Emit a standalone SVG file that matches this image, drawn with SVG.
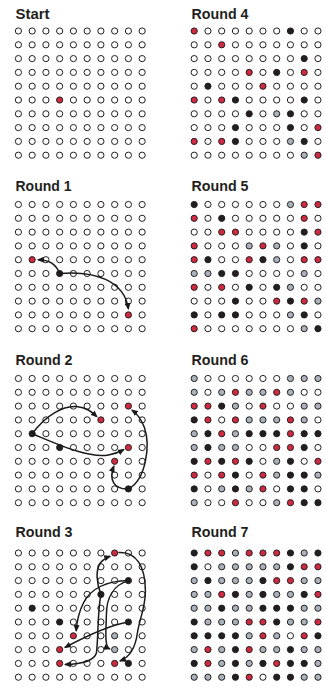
<svg xmlns="http://www.w3.org/2000/svg" width="326" height="688" viewBox="0 0 326 688">
<style>
.t{font-family:"Liberation Sans",Arial,sans-serif;font-weight:bold;font-size:15.5px;fill:#231f20}
.d{r:3.1px;stroke:#231f20;stroke-width:1;fill:#fff}
.r{fill:#cf2a3f}.k{fill:#231f20}.g{fill:#aab3bc}
.a{fill:none;stroke:#1a1a1a;stroke-width:1.5;marker-end:url(#ah)}
</style>
<defs>
<marker id="ah" markerUnits="userSpaceOnUse" markerWidth="7" markerHeight="6" viewBox="0 0 7 6" refX="6" refY="3" orient="auto"><path d="M0,0 L7,3 L0,6 z" fill="#1a1a1a"/></marker>
</defs>
<rect width="326" height="688" fill="#fff"/>

<g id="panel-start">
<text class="t" x="15.5" y="18.5" textLength="34" lengthAdjust="spacingAndGlyphs">Start</text>
<g transform="translate(18.4,31)">
<g><circle class="d" cx="0"/><circle class="d" cx="13.75"/><circle class="d" cx="27.5"/><circle class="d" cx="41.25"/><circle class="d" cx="55"/><circle class="d" cx="68.75"/><circle class="d" cx="82.5"/><circle class="d" cx="96.25"/><circle class="d" cx="110"/><circle class="d" cx="123.75"/></g>
<g transform="translate(0,13.8)"><circle class="d" cx="0"/><circle class="d" cx="13.75"/><circle class="d" cx="27.5"/><circle class="d" cx="41.25"/><circle class="d" cx="55"/><circle class="d" cx="68.75"/><circle class="d" cx="82.5"/><circle class="d" cx="96.25"/><circle class="d" cx="110"/><circle class="d" cx="123.75"/></g>
<g transform="translate(0,27.6)"><circle class="d" cx="0"/><circle class="d" cx="13.75"/><circle class="d" cx="27.5"/><circle class="d" cx="41.25"/><circle class="d" cx="55"/><circle class="d" cx="68.75"/><circle class="d" cx="82.5"/><circle class="d" cx="96.25"/><circle class="d" cx="110"/><circle class="d" cx="123.75"/></g>
<g transform="translate(0,41.4)"><circle class="d" cx="0"/><circle class="d" cx="13.75"/><circle class="d" cx="27.5"/><circle class="d" cx="41.25"/><circle class="d" cx="55"/><circle class="d" cx="68.75"/><circle class="d" cx="82.5"/><circle class="d" cx="96.25"/><circle class="d" cx="110"/><circle class="d" cx="123.75"/></g>
<g transform="translate(0,55.2)"><circle class="d" cx="0"/><circle class="d" cx="13.75"/><circle class="d" cx="27.5"/><circle class="d" cx="41.25"/><circle class="d" cx="55"/><circle class="d" cx="68.75"/><circle class="d" cx="82.5"/><circle class="d" cx="96.25"/><circle class="d" cx="110"/><circle class="d" cx="123.75"/></g>
<g transform="translate(0,69)"><circle class="d" cx="0"/><circle class="d" cx="13.75"/><circle class="d" cx="27.5"/><circle class="d r" cx="41.25"/><circle class="d" cx="55"/><circle class="d" cx="68.75"/><circle class="d" cx="82.5"/><circle class="d" cx="96.25"/><circle class="d" cx="110"/><circle class="d" cx="123.75"/></g>
<g transform="translate(0,82.8)"><circle class="d" cx="0"/><circle class="d" cx="13.75"/><circle class="d" cx="27.5"/><circle class="d" cx="41.25"/><circle class="d" cx="55"/><circle class="d" cx="68.75"/><circle class="d" cx="82.5"/><circle class="d" cx="96.25"/><circle class="d" cx="110"/><circle class="d" cx="123.75"/></g>
<g transform="translate(0,96.6)"><circle class="d" cx="0"/><circle class="d" cx="13.75"/><circle class="d" cx="27.5"/><circle class="d" cx="41.25"/><circle class="d" cx="55"/><circle class="d" cx="68.75"/><circle class="d" cx="82.5"/><circle class="d" cx="96.25"/><circle class="d" cx="110"/><circle class="d" cx="123.75"/></g>
<g transform="translate(0,110.4)"><circle class="d" cx="0"/><circle class="d" cx="13.75"/><circle class="d" cx="27.5"/><circle class="d" cx="41.25"/><circle class="d" cx="55"/><circle class="d" cx="68.75"/><circle class="d" cx="82.5"/><circle class="d" cx="96.25"/><circle class="d" cx="110"/><circle class="d" cx="123.75"/></g>
<g transform="translate(0,124.2)"><circle class="d" cx="0"/><circle class="d" cx="13.75"/><circle class="d" cx="27.5"/><circle class="d" cx="41.25"/><circle class="d" cx="55"/><circle class="d" cx="68.75"/><circle class="d" cx="82.5"/><circle class="d" cx="96.25"/><circle class="d" cx="110"/><circle class="d" cx="123.75"/></g>
</g>
</g>

<g id="panel-round1">
<text class="t" x="15.5" y="191" textLength="56" lengthAdjust="spacingAndGlyphs">Round 1</text>
<g transform="translate(18.4,204.5)">
<g><circle class="d" cx="0"/><circle class="d" cx="13.75"/><circle class="d" cx="27.5"/><circle class="d" cx="41.25"/><circle class="d" cx="55"/><circle class="d" cx="68.75"/><circle class="d" cx="82.5"/><circle class="d" cx="96.25"/><circle class="d" cx="110"/><circle class="d" cx="123.75"/></g>
<g transform="translate(0,13.8)"><circle class="d" cx="0"/><circle class="d" cx="13.75"/><circle class="d" cx="27.5"/><circle class="d" cx="41.25"/><circle class="d" cx="55"/><circle class="d" cx="68.75"/><circle class="d" cx="82.5"/><circle class="d" cx="96.25"/><circle class="d" cx="110"/><circle class="d" cx="123.75"/></g>
<g transform="translate(0,27.6)"><circle class="d" cx="0"/><circle class="d" cx="13.75"/><circle class="d" cx="27.5"/><circle class="d" cx="41.25"/><circle class="d" cx="55"/><circle class="d" cx="68.75"/><circle class="d" cx="82.5"/><circle class="d" cx="96.25"/><circle class="d" cx="110"/><circle class="d" cx="123.75"/></g>
<g transform="translate(0,41.4)"><circle class="d" cx="0"/><circle class="d" cx="13.75"/><circle class="d" cx="27.5"/><circle class="d" cx="41.25"/><circle class="d" cx="55"/><circle class="d" cx="68.75"/><circle class="d" cx="82.5"/><circle class="d" cx="96.25"/><circle class="d" cx="110"/><circle class="d" cx="123.75"/></g>
<g transform="translate(0,55.2)"><circle class="d" cx="0"/><circle class="d r" cx="13.75"/><circle class="d" cx="27.5"/><circle class="d" cx="41.25"/><circle class="d" cx="55"/><circle class="d" cx="68.75"/><circle class="d" cx="82.5"/><circle class="d" cx="96.25"/><circle class="d" cx="110"/><circle class="d" cx="123.75"/></g>
<g transform="translate(0,69)"><circle class="d" cx="0"/><circle class="d" cx="13.75"/><circle class="d" cx="27.5"/><circle class="d k" cx="41.25"/><circle class="d" cx="55"/><circle class="d" cx="68.75"/><circle class="d" cx="82.5"/><circle class="d" cx="96.25"/><circle class="d" cx="110"/><circle class="d" cx="123.75"/></g>
<g transform="translate(0,82.8)"><circle class="d" cx="0"/><circle class="d" cx="13.75"/><circle class="d" cx="27.5"/><circle class="d" cx="41.25"/><circle class="d" cx="55"/><circle class="d" cx="68.75"/><circle class="d" cx="82.5"/><circle class="d" cx="96.25"/><circle class="d" cx="110"/><circle class="d" cx="123.75"/></g>
<g transform="translate(0,96.6)"><circle class="d" cx="0"/><circle class="d" cx="13.75"/><circle class="d" cx="27.5"/><circle class="d" cx="41.25"/><circle class="d" cx="55"/><circle class="d" cx="68.75"/><circle class="d" cx="82.5"/><circle class="d" cx="96.25"/><circle class="d" cx="110"/><circle class="d" cx="123.75"/></g>
<g transform="translate(0,110.4)"><circle class="d" cx="0"/><circle class="d" cx="13.75"/><circle class="d" cx="27.5"/><circle class="d" cx="41.25"/><circle class="d" cx="55"/><circle class="d" cx="68.75"/><circle class="d" cx="82.5"/><circle class="d" cx="96.25"/><circle class="d r" cx="110"/><circle class="d" cx="123.75"/></g>
<g transform="translate(0,124.2)"><circle class="d" cx="0"/><circle class="d" cx="13.75"/><circle class="d" cx="27.5"/><circle class="d" cx="41.25"/><circle class="d" cx="55"/><circle class="d" cx="68.75"/><circle class="d" cx="82.5"/><circle class="d" cx="96.25"/><circle class="d" cx="110"/><circle class="d" cx="123.75"/></g>
</g>
</g>

<g id="panel-round2">
<text class="t" x="15.5" y="365" textLength="57" lengthAdjust="spacingAndGlyphs">Round 2</text>
<g transform="translate(18.4,378.5)">
<g><circle class="d" cx="0"/><circle class="d" cx="13.75"/><circle class="d" cx="27.5"/><circle class="d" cx="41.25"/><circle class="d" cx="55"/><circle class="d" cx="68.75"/><circle class="d" cx="82.5"/><circle class="d" cx="96.25"/><circle class="d" cx="110"/><circle class="d" cx="123.75"/></g>
<g transform="translate(0,13.8)"><circle class="d" cx="0"/><circle class="d" cx="13.75"/><circle class="d" cx="27.5"/><circle class="d" cx="41.25"/><circle class="d" cx="55"/><circle class="d" cx="68.75"/><circle class="d" cx="82.5"/><circle class="d" cx="96.25"/><circle class="d" cx="110"/><circle class="d" cx="123.75"/></g>
<g transform="translate(0,27.6)"><circle class="d" cx="0"/><circle class="d" cx="13.75"/><circle class="d" cx="27.5"/><circle class="d" cx="41.25"/><circle class="d" cx="55"/><circle class="d" cx="68.75"/><circle class="d" cx="82.5"/><circle class="d" cx="96.25"/><circle class="d r" cx="110"/><circle class="d" cx="123.75"/></g>
<g transform="translate(0,41.4)"><circle class="d" cx="0"/><circle class="d" cx="13.75"/><circle class="d" cx="27.5"/><circle class="d" cx="41.25"/><circle class="d" cx="55"/><circle class="d" cx="68.75"/><circle class="d r" cx="82.5"/><circle class="d" cx="96.25"/><circle class="d" cx="110"/><circle class="d" cx="123.75"/></g>
<g transform="translate(0,55.2)"><circle class="d" cx="0"/><circle class="d k" cx="13.75"/><circle class="d" cx="27.5"/><circle class="d" cx="41.25"/><circle class="d" cx="55"/><circle class="d" cx="68.75"/><circle class="d" cx="82.5"/><circle class="d" cx="96.25"/><circle class="d" cx="110"/><circle class="d" cx="123.75"/></g>
<g transform="translate(0,69)"><circle class="d" cx="0"/><circle class="d" cx="13.75"/><circle class="d" cx="27.5"/><circle class="d k" cx="41.25"/><circle class="d" cx="55"/><circle class="d" cx="68.75"/><circle class="d" cx="82.5"/><circle class="d" cx="96.25"/><circle class="d r" cx="110"/><circle class="d" cx="123.75"/></g>
<g transform="translate(0,82.8)"><circle class="d" cx="0"/><circle class="d" cx="13.75"/><circle class="d" cx="27.5"/><circle class="d" cx="41.25"/><circle class="d" cx="55"/><circle class="d" cx="68.75"/><circle class="d" cx="82.5"/><circle class="d r" cx="96.25"/><circle class="d" cx="110"/><circle class="d" cx="123.75"/></g>
<g transform="translate(0,96.6)"><circle class="d" cx="0"/><circle class="d" cx="13.75"/><circle class="d" cx="27.5"/><circle class="d" cx="41.25"/><circle class="d" cx="55"/><circle class="d" cx="68.75"/><circle class="d" cx="82.5"/><circle class="d" cx="96.25"/><circle class="d" cx="110"/><circle class="d" cx="123.75"/></g>
<g transform="translate(0,110.4)"><circle class="d" cx="0"/><circle class="d" cx="13.75"/><circle class="d" cx="27.5"/><circle class="d" cx="41.25"/><circle class="d" cx="55"/><circle class="d" cx="68.75"/><circle class="d" cx="82.5"/><circle class="d" cx="96.25"/><circle class="d k" cx="110"/><circle class="d" cx="123.75"/></g>
<g transform="translate(0,124.2)"><circle class="d" cx="0"/><circle class="d" cx="13.75"/><circle class="d" cx="27.5"/><circle class="d" cx="41.25"/><circle class="d" cx="55"/><circle class="d" cx="68.75"/><circle class="d" cx="82.5"/><circle class="d" cx="96.25"/><circle class="d" cx="110"/><circle class="d" cx="123.75"/></g>
</g>
</g>

<g id="panel-round3">
<text class="t" x="15.5" y="537" textLength="57" lengthAdjust="spacingAndGlyphs">Round 3</text>
<g transform="translate(18.4,553)">
<g><circle class="d" cx="0"/><circle class="d" cx="13.75"/><circle class="d" cx="27.5"/><circle class="d" cx="41.25"/><circle class="d" cx="55"/><circle class="d" cx="68.75"/><circle class="d" cx="82.5"/><circle class="d r" cx="96.25"/><circle class="d" cx="110"/><circle class="d" cx="123.75"/></g>
<g transform="translate(0,13.8)"><circle class="d" cx="0"/><circle class="d" cx="13.75"/><circle class="d" cx="27.5"/><circle class="d" cx="41.25"/><circle class="d" cx="55"/><circle class="d" cx="68.75"/><circle class="d" cx="82.5"/><circle class="d" cx="96.25"/><circle class="d" cx="110"/><circle class="d" cx="123.75"/></g>
<g transform="translate(0,27.6)"><circle class="d" cx="0"/><circle class="d" cx="13.75"/><circle class="d" cx="27.5"/><circle class="d" cx="41.25"/><circle class="d" cx="55"/><circle class="d" cx="68.75"/><circle class="d" cx="82.5"/><circle class="d" cx="96.25"/><circle class="d k" cx="110"/><circle class="d" cx="123.75"/></g>
<g transform="translate(0,41.4)"><circle class="d" cx="0"/><circle class="d" cx="13.75"/><circle class="d" cx="27.5"/><circle class="d" cx="41.25"/><circle class="d" cx="55"/><circle class="d" cx="68.75"/><circle class="d k" cx="82.5"/><circle class="d" cx="96.25"/><circle class="d" cx="110"/><circle class="d" cx="123.75"/></g>
<g transform="translate(0,55.2)"><circle class="d" cx="0"/><circle class="d k" cx="13.75"/><circle class="d" cx="27.5"/><circle class="d" cx="41.25"/><circle class="d" cx="55"/><circle class="d" cx="68.75"/><circle class="d" cx="82.5"/><circle class="d" cx="96.25"/><circle class="d" cx="110"/><circle class="d" cx="123.75"/></g>
<g transform="translate(0,69)"><circle class="d" cx="0"/><circle class="d" cx="13.75"/><circle class="d" cx="27.5"/><circle class="d k" cx="41.25"/><circle class="d" cx="55"/><circle class="d" cx="68.75"/><circle class="d" cx="82.5"/><circle class="d" cx="96.25"/><circle class="d k" cx="110"/><circle class="d" cx="123.75"/></g>
<g transform="translate(0,82.8)"><circle class="d" cx="0"/><circle class="d" cx="13.75"/><circle class="d" cx="27.5"/><circle class="d" cx="41.25"/><circle class="d r" cx="55"/><circle class="d" cx="68.75"/><circle class="d" cx="82.5"/><circle class="d g" cx="96.25"/><circle class="d" cx="110"/><circle class="d" cx="123.75"/></g>
<g transform="translate(0,96.6)"><circle class="d" cx="0"/><circle class="d" cx="13.75"/><circle class="d" cx="27.5"/><circle class="d r" cx="41.25"/><circle class="d" cx="55"/><circle class="d" cx="68.75"/><circle class="d" cx="82.5"/><circle class="d g" cx="96.25"/><circle class="d" cx="110"/><circle class="d" cx="123.75"/></g>
<g transform="translate(0,110.4)"><circle class="d" cx="0"/><circle class="d" cx="13.75"/><circle class="d" cx="27.5"/><circle class="d r" cx="41.25"/><circle class="d" cx="55"/><circle class="d" cx="68.75"/><circle class="d" cx="82.5"/><circle class="d r" cx="96.25"/><circle class="d k" cx="110"/><circle class="d" cx="123.75"/></g>
<g transform="translate(0,124.2)"><circle class="d" cx="0"/><circle class="d" cx="13.75"/><circle class="d" cx="27.5"/><circle class="d" cx="41.25"/><circle class="d" cx="55"/><circle class="d" cx="68.75"/><circle class="d" cx="82.5"/><circle class="d" cx="96.25"/><circle class="d" cx="110"/><circle class="d" cx="123.75"/></g>
</g>
</g>

<g id="panel-round4">
<text class="t" x="191.5" y="18.5" textLength="57" lengthAdjust="spacingAndGlyphs">Round 4</text>
<g transform="translate(194.2,31)">
<g><circle class="d r" cx="0"/><circle class="d" cx="13.75"/><circle class="d" cx="27.5"/><circle class="d" cx="41.25"/><circle class="d" cx="55"/><circle class="d" cx="68.75"/><circle class="d" cx="82.5"/><circle class="d k" cx="96.25"/><circle class="d" cx="110"/><circle class="d" cx="123.75"/></g>
<g transform="translate(0,13.8)"><circle class="d" cx="0"/><circle class="d" cx="13.75"/><circle class="d r" cx="27.5"/><circle class="d" cx="41.25"/><circle class="d" cx="55"/><circle class="d" cx="68.75"/><circle class="d" cx="82.5"/><circle class="d" cx="96.25"/><circle class="d" cx="110"/><circle class="d" cx="123.75"/></g>
<g transform="translate(0,27.6)"><circle class="d" cx="0"/><circle class="d" cx="13.75"/><circle class="d" cx="27.5"/><circle class="d" cx="41.25"/><circle class="d" cx="55"/><circle class="d" cx="68.75"/><circle class="d" cx="82.5"/><circle class="d" cx="96.25"/><circle class="d k" cx="110"/><circle class="d" cx="123.75"/></g>
<g transform="translate(0,41.4)"><circle class="d" cx="0"/><circle class="d" cx="13.75"/><circle class="d" cx="27.5"/><circle class="d" cx="41.25"/><circle class="d r" cx="55"/><circle class="d" cx="68.75"/><circle class="d k" cx="82.5"/><circle class="d" cx="96.25"/><circle class="d r" cx="110"/><circle class="d" cx="123.75"/></g>
<g transform="translate(0,55.2)"><circle class="d" cx="0"/><circle class="d k" cx="13.75"/><circle class="d" cx="27.5"/><circle class="d" cx="41.25"/><circle class="d" cx="55"/><circle class="d r" cx="68.75"/><circle class="d" cx="82.5"/><circle class="d" cx="96.25"/><circle class="d" cx="110"/><circle class="d" cx="123.75"/></g>
<g transform="translate(0,69)"><circle class="d r" cx="0"/><circle class="d" cx="13.75"/><circle class="d r" cx="27.5"/><circle class="d k" cx="41.25"/><circle class="d" cx="55"/><circle class="d" cx="68.75"/><circle class="d" cx="82.5"/><circle class="d" cx="96.25"/><circle class="d k" cx="110"/><circle class="d" cx="123.75"/></g>
<g transform="translate(0,82.8)"><circle class="d" cx="0"/><circle class="d" cx="13.75"/><circle class="d" cx="27.5"/><circle class="d" cx="41.25"/><circle class="d k" cx="55"/><circle class="d" cx="68.75"/><circle class="d g" cx="82.5"/><circle class="d k" cx="96.25"/><circle class="d" cx="110"/><circle class="d" cx="123.75"/></g>
<g transform="translate(0,96.6)"><circle class="d" cx="0"/><circle class="d" cx="13.75"/><circle class="d" cx="27.5"/><circle class="d k" cx="41.25"/><circle class="d" cx="55"/><circle class="d" cx="68.75"/><circle class="d" cx="82.5"/><circle class="d k" cx="96.25"/><circle class="d" cx="110"/><circle class="d r" cx="123.75"/></g>
<g transform="translate(0,110.4)"><circle class="d r" cx="0"/><circle class="d" cx="13.75"/><circle class="d r" cx="27.5"/><circle class="d k" cx="41.25"/><circle class="d" cx="55"/><circle class="d" cx="68.75"/><circle class="d" cx="82.5"/><circle class="d g" cx="96.25"/><circle class="d k" cx="110"/><circle class="d" cx="123.75"/></g>
<g transform="translate(0,124.2)"><circle class="d" cx="0"/><circle class="d" cx="13.75"/><circle class="d" cx="27.5"/><circle class="d" cx="41.25"/><circle class="d" cx="55"/><circle class="d" cx="68.75"/><circle class="d" cx="82.5"/><circle class="d" cx="96.25"/><circle class="d g" cx="110"/><circle class="d r" cx="123.75"/></g>
</g>
</g>

<g id="panel-round5">
<text class="t" x="191.5" y="191" textLength="57" lengthAdjust="spacingAndGlyphs">Round 5</text>
<g transform="translate(194.2,204.5)">
<g><circle class="d k" cx="0"/><circle class="d" cx="13.75"/><circle class="d" cx="27.5"/><circle class="d" cx="41.25"/><circle class="d" cx="55"/><circle class="d" cx="68.75"/><circle class="d" cx="82.5"/><circle class="d g" cx="96.25"/><circle class="d r" cx="110"/><circle class="d r" cx="123.75"/></g>
<g transform="translate(0,13.8)"><circle class="d r" cx="0"/><circle class="d" cx="13.75"/><circle class="d k" cx="27.5"/><circle class="d" cx="41.25"/><circle class="d" cx="55"/><circle class="d" cx="68.75"/><circle class="d" cx="82.5"/><circle class="d" cx="96.25"/><circle class="d r" cx="110"/><circle class="d" cx="123.75"/></g>
<g transform="translate(0,27.6)"><circle class="d" cx="0"/><circle class="d" cx="13.75"/><circle class="d r" cx="27.5"/><circle class="d r" cx="41.25"/><circle class="d" cx="55"/><circle class="d" cx="68.75"/><circle class="d" cx="82.5"/><circle class="d" cx="96.25"/><circle class="d k" cx="110"/><circle class="d r" cx="123.75"/></g>
<g transform="translate(0,41.4)"><circle class="d r" cx="0"/><circle class="d" cx="13.75"/><circle class="d" cx="27.5"/><circle class="d" cx="41.25"/><circle class="d g" cx="55"/><circle class="d r" cx="68.75"/><circle class="d g" cx="82.5"/><circle class="d" cx="96.25"/><circle class="d k" cx="110"/><circle class="d" cx="123.75"/></g>
<g transform="translate(0,55.2)"><circle class="d r" cx="0"/><circle class="d k" cx="13.75"/><circle class="d" cx="27.5"/><circle class="d" cx="41.25"/><circle class="d r" cx="55"/><circle class="d k" cx="68.75"/><circle class="d g" cx="82.5"/><circle class="d" cx="96.25"/><circle class="d r" cx="110"/><circle class="d r" cx="123.75"/></g>
<g transform="translate(0,69)"><circle class="d g" cx="0"/><circle class="d g" cx="13.75"/><circle class="d k" cx="27.5"/><circle class="d k" cx="41.25"/><circle class="d" cx="55"/><circle class="d" cx="68.75"/><circle class="d" cx="82.5"/><circle class="d" cx="96.25"/><circle class="d g" cx="110"/><circle class="d" cx="123.75"/></g>
<g transform="translate(0,82.8)"><circle class="d r" cx="0"/><circle class="d" cx="13.75"/><circle class="d r" cx="27.5"/><circle class="d" cx="41.25"/><circle class="d k" cx="55"/><circle class="d" cx="68.75"/><circle class="d k" cx="82.5"/><circle class="d g" cx="96.25"/><circle class="d" cx="110"/><circle class="d" cx="123.75"/></g>
<g transform="translate(0,96.6)"><circle class="d" cx="0"/><circle class="d" cx="13.75"/><circle class="d" cx="27.5"/><circle class="d k" cx="41.25"/><circle class="d" cx="55"/><circle class="d" cx="68.75"/><circle class="d r" cx="82.5"/><circle class="d k" cx="96.25"/><circle class="d r" cx="110"/><circle class="d g" cx="123.75"/></g>
<g transform="translate(0,110.4)"><circle class="d k" cx="0"/><circle class="d" cx="13.75"/><circle class="d k" cx="27.5"/><circle class="d k" cx="41.25"/><circle class="d" cx="55"/><circle class="d" cx="68.75"/><circle class="d" cx="82.5"/><circle class="d g" cx="96.25"/><circle class="d k" cx="110"/><circle class="d" cx="123.75"/></g>
<g transform="translate(0,124.2)"><circle class="d r" cx="0"/><circle class="d" cx="13.75"/><circle class="d" cx="27.5"/><circle class="d" cx="41.25"/><circle class="d" cx="55"/><circle class="d" cx="68.75"/><circle class="d" cx="82.5"/><circle class="d" cx="96.25"/><circle class="d g" cx="110"/><circle class="d k" cx="123.75"/></g>
</g>
</g>

<g id="panel-round6">
<text class="t" x="191.5" y="365" textLength="57" lengthAdjust="spacingAndGlyphs">Round 6</text>
<g transform="translate(194.2,378.5)">
<g><circle class="d g" cx="0"/><circle class="d" cx="13.75"/><circle class="d" cx="27.5"/><circle class="d" cx="41.25"/><circle class="d" cx="55"/><circle class="d" cx="68.75"/><circle class="d" cx="82.5"/><circle class="d g" cx="96.25"/><circle class="d g" cx="110"/><circle class="d g" cx="123.75"/></g>
<g transform="translate(0,13.8)"><circle class="d g" cx="0"/><circle class="d" cx="13.75"/><circle class="d g" cx="27.5"/><circle class="d r" cx="41.25"/><circle class="d g" cx="55"/><circle class="d g" cx="68.75"/><circle class="d r" cx="82.5"/><circle class="d g" cx="96.25"/><circle class="d" cx="110"/><circle class="d" cx="123.75"/></g>
<g transform="translate(0,27.6)"><circle class="d r" cx="0"/><circle class="d r" cx="13.75"/><circle class="d k" cx="27.5"/><circle class="d g" cx="41.25"/><circle class="d" cx="55"/><circle class="d r" cx="68.75"/><circle class="d" cx="82.5"/><circle class="d" cx="96.25"/><circle class="d g" cx="110"/><circle class="d g" cx="123.75"/></g>
<g transform="translate(0,41.4)"><circle class="d k" cx="0"/><circle class="d r" cx="13.75"/><circle class="d" cx="27.5"/><circle class="d r" cx="41.25"/><circle class="d g" cx="55"/><circle class="d g" cx="68.75"/><circle class="d g" cx="82.5"/><circle class="d r" cx="96.25"/><circle class="d g" cx="110"/><circle class="d" cx="123.75"/></g>
<g transform="translate(0,55.2)"><circle class="d g" cx="0"/><circle class="d k" cx="13.75"/><circle class="d r" cx="27.5"/><circle class="d g" cx="41.25"/><circle class="d k" cx="55"/><circle class="d k" cx="68.75"/><circle class="d k" cx="82.5"/><circle class="d r" cx="96.25"/><circle class="d k" cx="110"/><circle class="d k" cx="123.75"/></g>
<g transform="translate(0,69)"><circle class="d g" cx="0"/><circle class="d k" cx="13.75"/><circle class="d g" cx="27.5"/><circle class="d g" cx="41.25"/><circle class="d" cx="55"/><circle class="d" cx="68.75"/><circle class="d r" cx="82.5"/><circle class="d r" cx="96.25"/><circle class="d k" cx="110"/><circle class="d" cx="123.75"/></g>
<g transform="translate(0,82.8)"><circle class="d k" cx="0"/><circle class="d r" cx="13.75"/><circle class="d k" cx="27.5"/><circle class="d r" cx="41.25"/><circle class="d k" cx="55"/><circle class="d" cx="68.75"/><circle class="d g" cx="82.5"/><circle class="d k" cx="96.25"/><circle class="d" cx="110"/><circle class="d r" cx="123.75"/></g>
<g transform="translate(0,96.6)"><circle class="d r" cx="0"/><circle class="d" cx="13.75"/><circle class="d r" cx="27.5"/><circle class="d k" cx="41.25"/><circle class="d" cx="55"/><circle class="d r" cx="68.75"/><circle class="d g" cx="82.5"/><circle class="d k" cx="96.25"/><circle class="d k" cx="110"/><circle class="d g" cx="123.75"/></g>
<g transform="translate(0,110.4)"><circle class="d k" cx="0"/><circle class="d" cx="13.75"/><circle class="d g" cx="27.5"/><circle class="d k" cx="41.25"/><circle class="d g" cx="55"/><circle class="d r" cx="68.75"/><circle class="d" cx="82.5"/><circle class="d k" cx="96.25"/><circle class="d k" cx="110"/><circle class="d" cx="123.75"/></g>
<g transform="translate(0,124.2)"><circle class="d g" cx="0"/><circle class="d" cx="13.75"/><circle class="d" cx="27.5"/><circle class="d r" cx="41.25"/><circle class="d" cx="55"/><circle class="d" cx="68.75"/><circle class="d g" cx="82.5"/><circle class="d r" cx="96.25"/><circle class="d k" cx="110"/><circle class="d k" cx="123.75"/></g>
</g>
</g>

<g id="panel-round7">
<text class="t" x="191.5" y="537" textLength="57" lengthAdjust="spacingAndGlyphs">Round 7</text>
<g transform="translate(194.2,553)">
<g><circle class="d k" cx="0"/><circle class="d r" cx="13.75"/><circle class="d r" cx="27.5"/><circle class="d g" cx="41.25"/><circle class="d r" cx="55"/><circle class="d r" cx="68.75"/><circle class="d r" cx="82.5"/><circle class="d k" cx="96.25"/><circle class="d g" cx="110"/><circle class="d k" cx="123.75"/></g>
<g transform="translate(0,13.8)"><circle class="d k" cx="0"/><circle class="d" cx="13.75"/><circle class="d g" cx="27.5"/><circle class="d g" cx="41.25"/><circle class="d g" cx="55"/><circle class="d g" cx="68.75"/><circle class="d g" cx="82.5"/><circle class="d k" cx="96.25"/><circle class="d r" cx="110"/><circle class="d r" cx="123.75"/></g>
<g transform="translate(0,27.6)"><circle class="d g" cx="0"/><circle class="d k" cx="13.75"/><circle class="d g" cx="27.5"/><circle class="d g" cx="41.25"/><circle class="d g" cx="55"/><circle class="d k" cx="68.75"/><circle class="d r" cx="82.5"/><circle class="d r" cx="96.25"/><circle class="d g" cx="110"/><circle class="d g" cx="123.75"/></g>
<g transform="translate(0,41.4)"><circle class="d g" cx="0"/><circle class="d g" cx="13.75"/><circle class="d r" cx="27.5"/><circle class="d k" cx="41.25"/><circle class="d g" cx="55"/><circle class="d k" cx="68.75"/><circle class="d g" cx="82.5"/><circle class="d g" cx="96.25"/><circle class="d k" cx="110"/><circle class="d r" cx="123.75"/></g>
<g transform="translate(0,55.2)"><circle class="d g" cx="0"/><circle class="d g" cx="13.75"/><circle class="d k" cx="27.5"/><circle class="d g" cx="41.25"/><circle class="d g" cx="55"/><circle class="d k" cx="68.75"/><circle class="d k" cx="82.5"/><circle class="d k" cx="96.25"/><circle class="d g" cx="110"/><circle class="d g" cx="123.75"/></g>
<g transform="translate(0,69)"><circle class="d k" cx="0"/><circle class="d g" cx="13.75"/><circle class="d g" cx="27.5"/><circle class="d g" cx="41.25"/><circle class="d r" cx="55"/><circle class="d r" cx="68.75"/><circle class="d k" cx="82.5"/><circle class="d g" cx="96.25"/><circle class="d g" cx="110"/><circle class="d r" cx="123.75"/></g>
<g transform="translate(0,82.8)"><circle class="d k" cx="0"/><circle class="d k" cx="13.75"/><circle class="d k" cx="27.5"/><circle class="d k" cx="41.25"/><circle class="d g" cx="55"/><circle class="d r" cx="68.75"/><circle class="d g" cx="82.5"/><circle class="d" cx="96.25"/><circle class="d r" cx="110"/><circle class="d k" cx="123.75"/></g>
<g transform="translate(0,96.6)"><circle class="d g" cx="0"/><circle class="d r" cx="13.75"/><circle class="d g" cx="27.5"/><circle class="d k" cx="41.25"/><circle class="d r" cx="55"/><circle class="d g" cx="68.75"/><circle class="d g" cx="82.5"/><circle class="d k" cx="96.25"/><circle class="d g" cx="110"/><circle class="d g" cx="123.75"/></g>
<g transform="translate(0,110.4)"><circle class="d k" cx="0"/><circle class="d r" cx="13.75"/><circle class="d g" cx="27.5"/><circle class="d k" cx="41.25"/><circle class="d g" cx="55"/><circle class="d k" cx="68.75"/><circle class="d r" cx="82.5"/><circle class="d k" cx="96.25"/><circle class="d k" cx="110"/><circle class="d g" cx="123.75"/></g>
<g transform="translate(0,124.2)"><circle class="d g" cx="0"/><circle class="d g" cx="13.75"/><circle class="d g" cx="27.5"/><circle class="d k" cx="41.25"/><circle class="d r" cx="55"/><circle class="d" cx="68.75"/><circle class="d k" cx="82.5"/><circle class="d k" cx="96.25"/><circle class="d g" cx="110"/><circle class="d g" cx="123.75"/></g>
</g>
</g>

<g id="connectors">
<g transform="translate(18.4,204.5)">
<path class="a" d="M41.25,69 C38,60 31,55.2 19.5,55.2"/>
<path class="a" d="M41.25,69 C76,66 106,76 110,104.5"/>
</g>
<g transform="translate(18.4,378.5)">
<path class="a" d="M13.75,55.2 C28,36 45,27 58,28 C68,29 73,33 78.5,38.2"/>
<path class="a" d="M13.75,55.2 C40,66 70,80 90,76.5 C96,75.5 101,73.5 105.5,71"/>
<path class="a" d="M110,110.4 C96,111 90,102 95.5,87.5"/>
<path class="a" d="M110,110.4 C128,101 132,66 126,49 C123,41 119,35.5 113.5,31.5"/>
</g>
<g transform="translate(18.4,553)">
<path class="a" d="M82.5,41.4 C78,30 77,17 82,10 C85,6 88,4.5 91.8,3.2"/>
<path class="a" d="M100,-0.5 C118,-2 127,14 127,38 C127,55 121,66 119,80 C117,95 112,104 101.5,108"/>
<path class="a" d="M110,27.6 C88,28 72,36 65,50 C61,58 58.5,67 57.8,78"/>
<path class="a" d="M110,27.6 C95,32 88,45 88,62 C87.5,80 86,94 91.5,96"/>
<path class="a" d="M82.5,41.4 C79,60 80,85 78,100 C76,107 66,111 46.5,111.5"/>
<path class="a" d="M110,69 C92,72 68,83 46.5,94.5"/>
</g>
</g>
</svg>
